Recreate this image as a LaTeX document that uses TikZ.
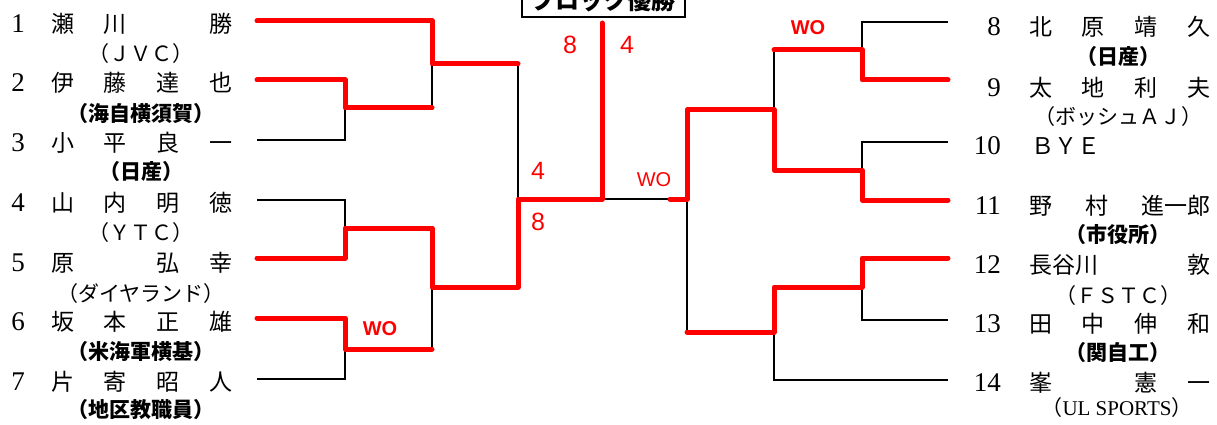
\documentclass[tikz,border=0pt]{standalone}
\usepackage{fontspec}
\newfontfamily\jpfont{Noto Sans CJK JP}
\newfontfamily\seedfont{Liberation Serif}
\newfontfamily\redsans{Liberation Sans}
\usetikzlibrary{calc}

% spread a name over the fixed name column
\newcommand{\spread}[1]{\hbox to 181pt{#1}}

\begin{document}
\begin{tikzpicture}[
  x=1pt, y=-1pt,
  bk/.style={line width=1.5pt},
  win/.style={red, line width=5pt, line join=round, line cap=round},
  pname/.style={font=\jpfont\fontsize{23}{23}\selectfont, inner sep=0pt, anchor=west},
  club/.style={font=\jpfont\fontsize{21}{21}\selectfont, inner sep=0pt},
  clubb/.style={club, font=\jpfont\bfseries\fontsize{21}{21}\selectfont},
  seed/.style={font=\seedfont\fontsize{27}{27}\selectfont, inner sep=0pt},
  score/.style={font=\redsans\fontsize{25}{25}\selectfont, text=red, inner sep=0pt},
  wo/.style={font=\redsans\bfseries\fontsize{20}{20}\selectfont, text=red, inner sep=0pt}
]
  \useasboundingbox (0,0) rectangle (1217,425);
  \clip (0,0) rectangle (1217,425);

  % left entries
  \node[seed] (s1) at (18,24)  {1};  \node[pname] (n1) at (51,24)  {\spread{瀬\hfill 川\hfill\hphantom{一}\hfill 勝}};
  \node[club] (c1) at (141,54)  {（ＪＶＣ）};
  \node[seed] (s2) at (18,83)  {2};  \node[pname] (n2) at (51,83)  {\spread{伊\hfill 藤\hfill 達\hfill 也}};
  \node[clubb] (c2) at (141,114) {（海自横須賀）};
  \node[seed] (s3) at (18,143) {3};  \node[pname] (n3) at (51,143) {\spread{小\hfill 平\hfill 良\hfill 一}};
  \node[clubb] (c3) at (141,172) {（日産）};
  \node[seed] (s4) at (18,203) {4};  \node[pname] (n4) at (51,203) {\spread{山\hfill 内\hfill 明\hfill 徳}};
  \node[club] (c4) at (141,233) {（ＹＴＣ）};
  \node[seed] (s5) at (18,263) {5};  \node[pname] (n5) at (51,263) {\spread{原\hfill\hphantom{一}\hfill 弘\hfill 幸}};
  \node[club] (c5) at (141,294) {（ダイヤランド）};
  \node[seed] (s6) at (18,322) {6};  \node[pname] (n6) at (51,322) {\spread{坂\hfill 本\hfill 正\hfill 雄}};
  \node[clubb] (c6) at (141,352) {（米海軍横基）};
  \node[seed] (s7) at (18,382) {7};  \node[pname] (n7) at (51,382) {\spread{片\hfill 寄\hfill 昭\hfill 人}};
  \node[clubb] (c7) at (141,410) {（地区教職員）};

  % right entries
  \node[seed, anchor=east] (s8)  at (1001,27)  {8};  \node[pname] (n8)  at (1029,27)  {\spread{北\hfill 原\hfill 靖\hfill 久}};
  \node[clubb] (c8)  at (1118,57)  {（日産）};
  \node[seed, anchor=east] (s9)  at (1001,88)  {9};  \node[pname] (n9)  at (1029,88)  {\spread{太\hfill 地\hfill 利\hfill 夫}};
  \node[club] (c9)  at (1118,117) {（ボッシュＡＪ）};
  \node[seed, anchor=east] (s10) at (1001,146) {10}; \node[pname] (n10) at (1031,146) {ＢＹＥ};
  \node[seed, anchor=east] (s11) at (1001,206) {11}; \node[pname] (n11) at (1029,206) {\spread{野\hfill 村\hfill 進一郎}};
  \node[clubb] (c11) at (1118,235) {（市役所）};
  \node[seed, anchor=east] (s12) at (1001,265) {12}; \node[pname] (n12) at (1029,265) {\spread{長谷川\hfill 敦}};
  \node[club] (c12) at (1118,296) {（ＦＳＴＣ）};
  \node[seed, anchor=east] (s13) at (1001,324) {13}; \node[pname] (n13) at (1029,324) {\spread{田\hfill 中\hfill 伸\hfill 和}};
  \node[clubb] (c13) at (1118,353) {（関自工）};
  \node[seed, anchor=east] (s14) at (1001,383) {14}; \node[pname] (n14) at (1029,383) {\spread{峯\hfill\hphantom{一}\hfill 憲\hfill 一}};
  \node[club] (c14) at (1117,408) {（{\seedfont\fontsize{21}{21}\selectfont UL SPORTS}）};

  % title box
  \node[draw, line width=2pt, anchor=south, minimum width=163pt, minimum height=34pt,
        font=\jpfont\bfseries\fontsize{24}{24}\selectfont] (title) at (603.5,18) {ブロック優勝};

  % line ends and match points
  \coordinate (e1) at (257,21);  \coordinate (e2) at (257,80);  \coordinate (e3) at (257,140);
  \coordinate (e4) at (257,200); \coordinate (e5) at (257,258); \coordinate (e6) at (257,318);
  \coordinate (e7) at (257,379);
  \coordinate (e8) at (948,22);  \coordinate (e9) at (948,80);  \coordinate (e10) at (948,142);
  \coordinate (e11) at (948,200); \coordinate (e12) at (948,258); \coordinate (e13) at (948,320);
  \coordinate (e14) at (948,380);
  \coordinate (a23) at (345,108); \coordinate (a45) at (345,228); \coordinate (a67) at (345,349);
  \coordinate (b1) at (432,64);   \coordinate (b47) at (432,287);
  \coordinate (c17) at (518,199); \coordinate (fin) at (602,199); \coordinate (top) at (602,23);
  \coordinate (a89) at (862,50);  \coordinate (a1011) at (862,170); \coordinate (a1213) at (862,287);
  \coordinate (b811) at (774,110); \coordinate (b1214) at (774,332);
  \coordinate (d814) at (687,199); \coordinate (stub) at (670,199);

  % full bracket
  \draw[bk] (e2) -| (a23) |- (e3);  \draw[bk] (e4) -| (a45) |- (e5);  \draw[bk] (e6) -| (a67) |- (e7);
  \draw[bk] (e1) -| (b1) |- (a23);  \draw[bk] (a45) -| (b47) |- (a67);
  \draw[bk] (b1) -| (c17) |- (b47); \draw[bk] (c17) -- (fin) -- (d814);
  \draw[bk] (e8) -| (a89) |- (e9);  \draw[bk] (e10) -| (a1011) |- (e11); \draw[bk] (e12) -| (a1213) |- (e13);
  \draw[bk] (a89) -| (b811) |- (a1011); \draw[bk] (a1213) -| (b1214) |- (e14);
  \draw[bk] (b811) -| (d814) |- (b1214);

  % winners
  \draw[win] (e1) -| (b1) -- (b1 -| c17);
  \draw[win] (e2) -| (a23) -- (a23 -| b1);
  \draw[win] (e5) -| (a45) -| (b47) -| (c17) -- (fin) -- (top);
  \draw[win] (e6) -| (a67) -- (a67 -| b47);
  \draw[win] (e9) -| (a89) -- (a89 -| b811);
  \draw[win] (e11) -| (a1011) -| (b811) -| (d814) -- (stub);
  \draw[win] (e12) -| (a1213) -| (b1214) -- (b1214 -| d814);

  % scores
  \node[score] (t8) at (570,45) {8};   \node[score] (t4) at (627,45) {4};
  \node[score] (u4) at (538,171) {4};  \node[score] (u8) at (538,222) {8};
  \node[score, font=\redsans\fontsize{20}{20}\selectfont] (wo1) at (654,180) {WO};
  \node[wo] (wo2) at (808,28) {WO};    \node[wo] (wo3) at (380,329) {WO};
\end{tikzpicture}
\end{document}
